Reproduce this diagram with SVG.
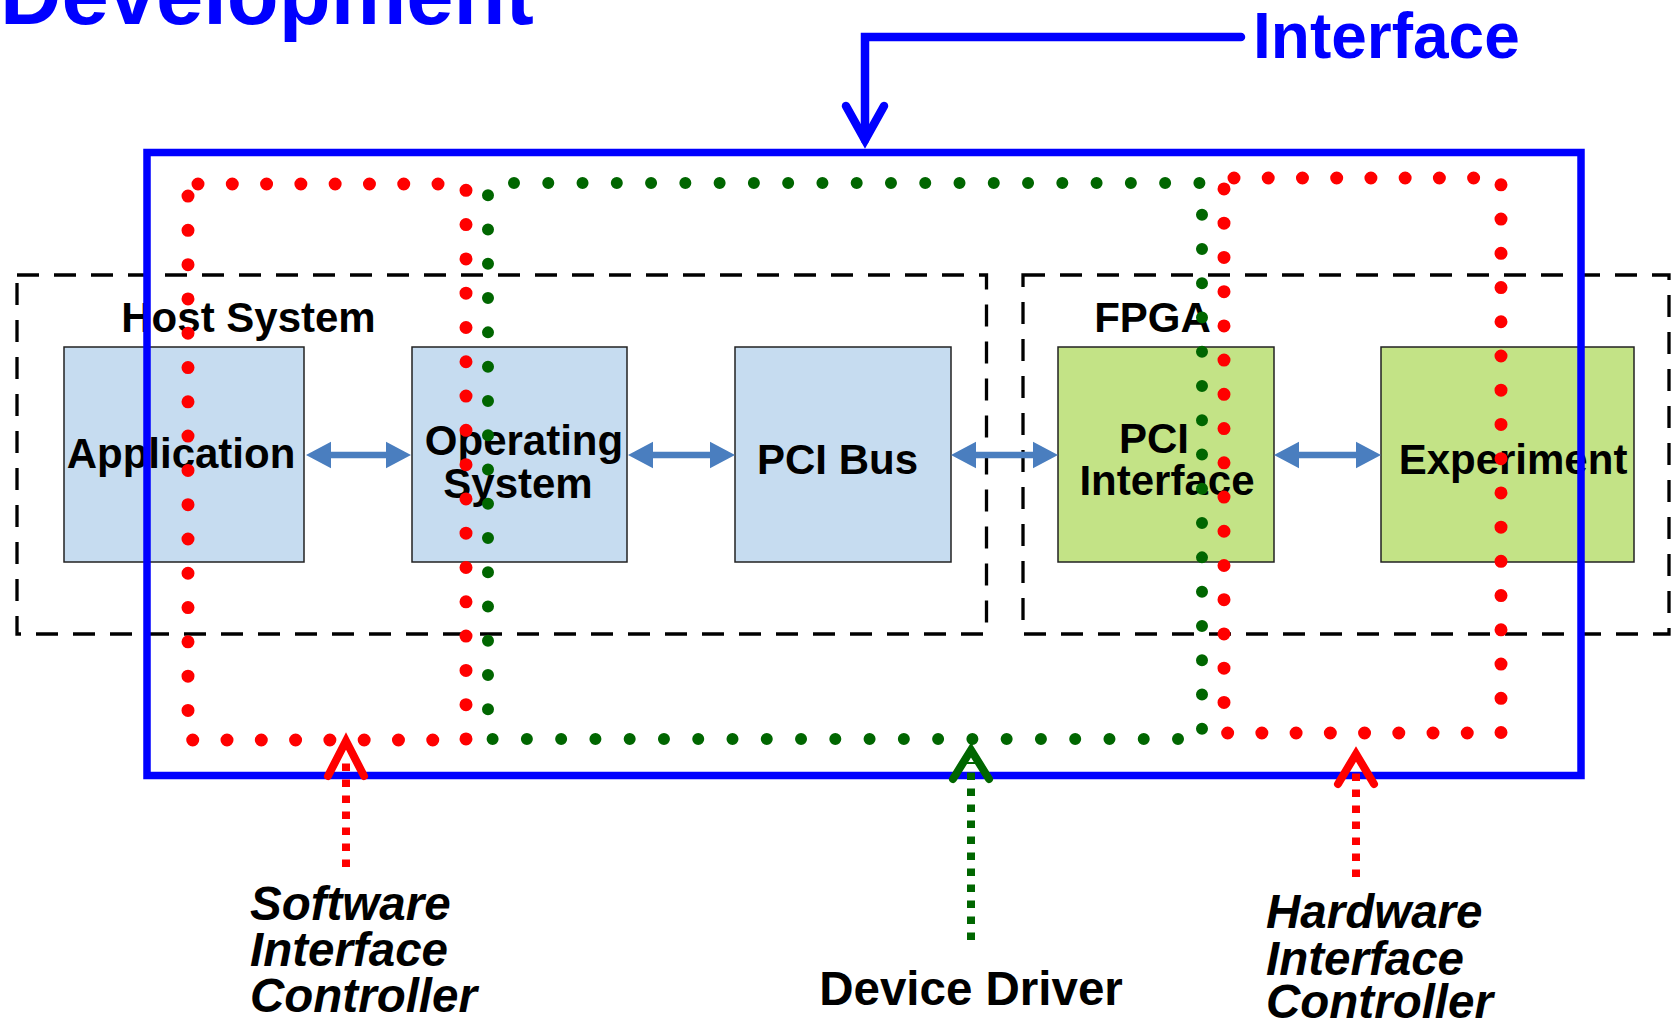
<svg xmlns="http://www.w3.org/2000/svg" width="1675" height="1023" viewBox="0 0 1675 1023">
  <style>
    text { font-family: "Liberation Sans", Arial, sans-serif; font-weight: bold; }
    .title { fill: #0000ff; }
    .lbl { font-size: 42px; fill: #000; }
    .cap { font-size: 47.5px; fill: #000; }
    .it { font-style: italic; }
    .container { fill: none; stroke: #000; stroke-width: 3.3; stroke-dasharray: 22 15; }
    .host { fill: #c6dcf0; stroke: #222; stroke-width: 1.5; }
    .fpga { fill: #c3e386; stroke: #222; stroke-width: 1.5; }
    .link { fill: #4a7ebf; }
    .frame { fill: none; stroke: #0000ff; stroke-width: 7.5; }
    .dots { fill: none; stroke-linecap: round; }
    .red { stroke: #ff0000; }
    .green { stroke: #006600; }
    .head { fill: none; stroke-width: 8; stroke-linecap: round; stroke-linejoin: miter; }
    .shaft { fill: none; stroke-width: 8; stroke-dasharray: 7.5 8.5; }
  </style>

  <!-- heading -->
  <text class="title" x="0" y="24" font-size="85">Development</text>

  <!-- containers -->
  <g id="host-system">
    <rect class="container" x="17" y="275" width="969.5" height="359"/>
    <text class="lbl" x="248.5" y="332" text-anchor="middle">Host System</text>
  </g>
  <g id="fpga">
    <rect class="container" x="1023" y="275" width="646" height="359"/>
    <text class="lbl" x="1152.5" y="332" text-anchor="middle">FPGA</text>
  </g>

  <!-- blocks -->
  <g id="application">
    <rect class="host" x="64" y="347" width="240" height="215"/>
    <text class="lbl" x="181" y="468" text-anchor="middle">Application</text>
  </g>
  <g id="operating-system">
    <rect class="host" x="412" y="347" width="215" height="215"/>
    <text class="lbl" x="524" y="455" text-anchor="middle">Operating</text>
    <text class="lbl" x="518" y="498" text-anchor="middle">System</text>
  </g>
  <g id="pci-bus">
    <rect class="host" x="735" y="347" width="216" height="215"/>
    <text class="lbl" x="837.5" y="474" text-anchor="middle">PCI Bus</text>
  </g>
  <g id="pci-interface">
    <rect class="fpga" x="1058" y="347" width="216" height="215"/>
    <text class="lbl" x="1154" y="453" text-anchor="middle">PCI</text>
    <text class="lbl" x="1167" y="495" text-anchor="middle">Interface</text>
  </g>
  <g id="experiment">
    <rect class="fpga" x="1381" y="347" width="253" height="215"/>
    <text class="lbl" x="1513" y="474" text-anchor="middle">Experiment</text>
  </g>

  <!-- block-to-block links -->
  <g id="connectors">
    <path class="link" d="M306 455 L331 441.7 V451.7 H386 V441.7 L411 455 L386 468.3 V458.3 H331 V468.3 Z"/>
    <path class="link" d="M628 455 L653 441.7 V451.7 H710 V441.7 L735 455 L710 468.3 V458.3 H653 V468.3 Z"/>
    <path class="link" d="M951 455 L976 441.7 V451.7 H1033 V441.7 L1058 455 L1033 468.3 V458.3 H976 V468.3 Z"/>
    <path class="link" d="M1274 455 L1299 441.7 V451.7 H1356 V441.7 L1381 455 L1356 468.3 V458.3 H1299 V468.3 Z"/>
  </g>

  <!-- interface boundary -->
  <g id="interface">
    <rect class="frame" x="147" y="152.5" width="1434" height="623"/>
    <path d="M1241 37 H865 V140" fill="none" stroke="#0000ff" stroke-width="8.5" stroke-linecap="round" stroke-linejoin="miter"/>
    <polyline points="846,106 865,140 884,106" fill="none" stroke="#0000ff" stroke-width="8.5" stroke-linecap="round" stroke-linejoin="miter"/>
    <text class="title" x="1253" y="58" font-size="64">Interface</text>
  </g>

  <!-- software interface controller scope -->
  <g id="software-interface-controller">
    <path class="dots red" stroke-width="13" stroke-dasharray="0 34.29" d="M198 184 H466 V740 H188 V195.5"/>
    <path class="shaft red" d="M346 867 V760"/>
    <polyline class="head red" points="328,776 346,741 364,776"/>
    <text class="cap it" x="250" y="920">Software</text>
    <text class="cap it" x="250" y="966">Interface</text>
    <text class="cap it" x="250" y="1012">Controller</text>
  </g>

  <!-- device driver scope -->
  <g id="device-driver">
    <path class="dots green" stroke-width="12" stroke-dasharray="0 34.27" d="M514 183 H1202 V739 H488 V194.5"/>
    <path class="shaft green" d="M971 940 V762"/>
    <polyline class="head green" points="953,779 971,750 989,779"/>
    <text class="cap" x="971" y="1005" text-anchor="middle">Device Driver</text>
  </g>

  <!-- hardware interface controller scope -->
  <g id="hardware-interface-controller">
    <path class="dots red" stroke-width="13" stroke-dasharray="0 34.23" d="M1234 178 H1501 V733 H1224 V188.5"/>
    <path class="shaft red" d="M1356 877 V765"/>
    <polyline class="head red" points="1338,784 1356,754 1374,784"/>
    <text class="cap it" x="1266" y="928">Hardware</text>
    <text class="cap it" x="1266" y="975">Interface</text>
    <text class="cap it" x="1266" y="1018">Controller</text>
  </g>
</svg>
